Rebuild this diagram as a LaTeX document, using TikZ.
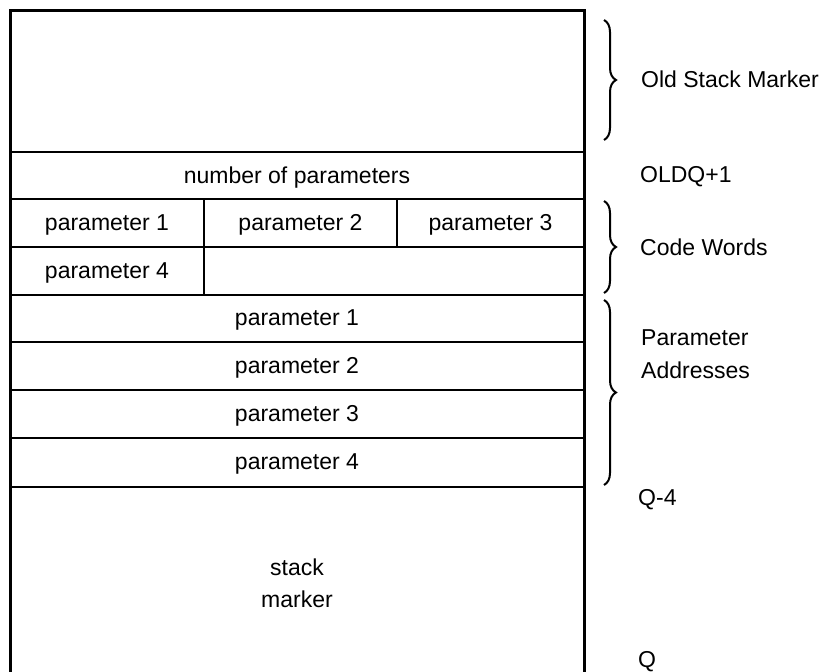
\documentclass[tikz,border=0pt]{standalone}
\usepackage{fontspec}
\setmainfont{Liberation Sans}
\usetikzlibrary{decorations.pathreplacing}
\begin{document}
\begin{tikzpicture}[x=1pt,y=-1pt,
  txt/.style={anchor=base, inner sep=0pt, font=\fontsize{23}{32}\selectfont},
  side/.style={anchor=base west, inner sep=0pt, align=left, font=\fontsize{23}{33}\selectfont},
  frame/.style={line width=3pt},
  rule/.style={line width=2.3pt},
  brc/.style={decorate, decoration={brace, amplitude=12pt, aspect=0.5}, line width=2pt}]
\useasboundingbox (0,0) rectangle (828,672);
% frame (open at the bottom)
\coordinate (bl) at (10,690);
\coordinate (tl) at (10,10);
\coordinate (tr) at (584,10);
\coordinate (br) at (584,690);
\draw[frame] (bl) -- (tl) -- (tr) -- (br);
% horizontal rules
\foreach \y in {152,199,247,295,342,390,438,487}
  \draw[rule] (10,\y) -- (584,\y);
% vertical dividers
\draw[rule] (204,199) -- (204,295);
\draw[rule] (397,199) -- (397,247);
% cell texts
\node[txt] (nop) at (297,183) {number of parameters};
\node[txt] (cw1) at (107,230) {parameter 1};
\node[txt] (cw2) at (300.5,230) {parameter 2};
\node[txt] (cw3) at (490.5,230) {parameter 3};
\node[txt] (cw4) at (107,278) {parameter 4};
\node[txt] (pa1) at (297,325) {parameter 1};
\node[txt] (pa2) at (297,373) {parameter 2};
\node[txt] (pa3) at (297,421) {parameter 3};
\node[txt] (pa4) at (297,469) {parameter 4};
\node[txt] (stk) at (297,575) {stack};
\node[txt] (mrk) at (297,607) {marker};
% braces
\coordinate (b1t) at (604,20);  \coordinate (b1b) at (604,140);
\coordinate (b2t) at (604,201); \coordinate (b2b) at (604,293);
\coordinate (b3t) at (604,300); \coordinate (b3b) at (604,485);
\draw[brc] (b1t) -- (b1b);
\draw[brc] (b2t) -- (b2b);
\draw[brc] (b3t) -- (b3b);
% side labels
\node[side] (osm) at (641,87) {Old Stack Marker};
\node[side] (oldq) at (640,182) {OLDQ+1};
\node[side] (cwl) at (640,255) {Code Words};
\node[side] (pal) at (641,378) {Parameter\\Addresses};
\node[side] (q4) at (638,505) {Q-4};
\node[side] (q) at (638,667) {Q};
\end{tikzpicture}
\end{document}
